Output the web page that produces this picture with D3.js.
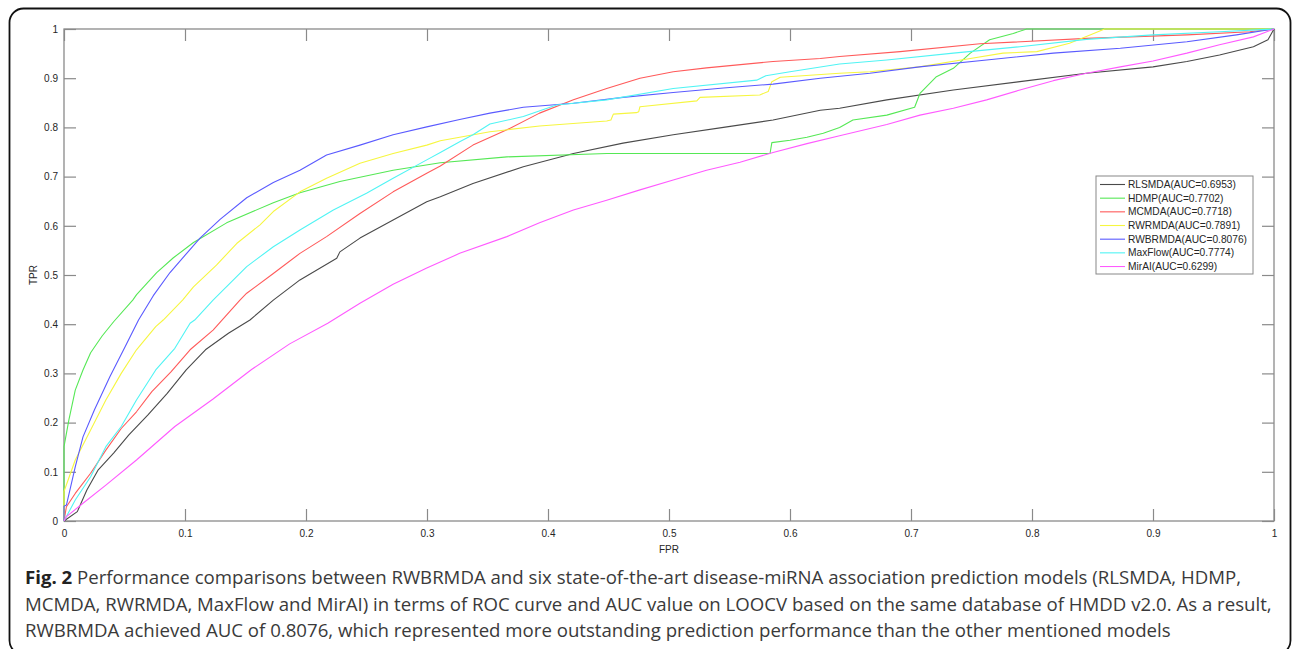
<!DOCTYPE html>
<html>
<head>
<meta charset="utf-8">
<script src="https://cdn.jsdelivr.net/npm/d3@7"></script>
<style>
  body { margin: 0; background: #fff; }
  svg { display: block; }
</style>
</head>
<body>
<svg id="chart"></svg>
<script>
// ROC points [FPR, TPR]
const rlsmda = [[0,0],[.002,.0035],[.011,.019],[.0189,.063],[.0283,.104],[.041,.138],[.0536,.175],[.0694,.2155],[.0853,.2595],[.101,.307],[.1169,.348],[.1359,.3815],[.1537,.4085],[.173,.449],[.195,.49],[.2254,.534],[.228,.547],[.2446,.575],[.272,.612],[.2998,.649],[.311,.659],[.338,.686],[.3796,.72],[.421,.747],[.462,.768],[.5035,.785],[.545,.80],[.586,.815],[.625,.835],[.641,.839],[.68,.856],[.735,.876],[.79,.893],[.845,.91],[.90,.923],[.928,.934],[.955,.947],[.983,.964],[.995,.978],[1,1]];
const hdmp = [[0,0],[0,.151],[.004,.205],[.0093,.266],[.0157,.307],[.022,.342],[.0315,.376],[.041,.405],[.0568,.449],[.060,.46],[.0766,.505],[.0904,.535],[.107,.566],[.1344,.606],[.173,.647],[.195,.667],[.228,.69],[.272,.713],[.311,.728],[.366,.74],[.4485,.747],[.5835,.747],[.585,.769],[.600,.774],[.614,.78],[.6275,.788],[.641,.80],[.652,.815],[.68,.825],[.703,.841],[.7074,.869],[.721,.903],[.735,.92],[.749,.951],[.765,.978],[.7845,.991],[.7956,1],[1,1]];
const mcmda = [[0,0],[.002,.029],[.0093,.056],[.022,.097],[.0346,.144],[.0473,.188],[.0599,.222],[.0726,.263],[.0884,.303],[.1042,.348],[.1232,.388],[.1454,.449],[.151,.463],[.173,.503],[.195,.544],[.217,.578],[.2446,.625],[.272,.669],[.2998,.707],[.311,.7215],[.338,.764],[.366,.795],[.393,.829],[.421,.856],[.4485,.879],[.476,.90],[.5035,.913],[.531,.921],[.586,.934],[.625,.94],[.641,.944],[.691,.954],[.757,.97],[.845,.981],[.928,.988],[.98,.9945],[1,1]];
const rwrmda = [[0,0],[0,.06],[.0093,.124],[.022,.185],[.0346,.246],[.0473,.30],[.0599,.348],[.0758,.395],[.082,.4085],[.098,.449],[.107,.476],[.126,.52],[.1427,.564],[.162,.602],[.173,.629],[.195,.669],[.217,.6965],[.2446,.727],[.272,.747],[.2998,.764],[.311,.773],[.327,.78],[.352,.791],[.393,.803],[.4485,.813],[.452,.815],[.454,.827],[.473,.83],[.475,.832],[.476,.842],[.523,.854],[.5256,.861],[.575,.866],[.582,.873],[.585,.893],[.592,.902],[.641,.91],[.666,.913],[.707,.923],[.749,.94],[.776,.951],[.804,.954],[.831,.971],[.851,.991],[.86,1],[1,1]];
const rwbrmda = [[0,0],[0,.03],[.002,.0325],[.0093,.11],[.0157,.171],[.0251,.2256],[.0379,.293],[.0505,.354],[.0616,.4085],[.0738,.458],[.0876,.505],[.1014,.544],[.1124,.575],[.129,.613],[.151,.657],[.173,.688],[.195,.713],[.217,.744],[.2446,.764],[.272,.785],[.2998,.801],[.327,.816],[.352,.829],[.3796,.841],[.421,.849],[.462,.861],[.5035,.871],[.545,.88],[.586,.888],[.625,.90],[.666,.91],[.707,.923],[.7625,.937],[.8176,.951],[.873,.961],[.928,.974],[.969,.988],[1,1]];
const maxflow = [[0,0],[.002,.009],[.0093,.0427],[.022,.09],[.0346,.151],[.0473,.192],[.0599,.246],[.0758,.307],[.0916,.351],[.1042,.402],[.108,.4085],[.1232,.449],[.129,.463],[.151,.517],[.173,.5575],[.195,.5915],[.2226,.632],[.25,.666],[.272,.6965],[.2998,.734],[.311,.749],[.327,.771],[.338,.785],[.352,.807],[.3796,.822],[.407,.8455],[.4485,.856],[.5035,.879],[.5725,.896],[.58,.905],[.600,.913],[.641,.929],[.68,.937],[.735,.951],[.79,.964],[.845,.979],[.90,.988],[.955,.9945],[1,1]];
const mirai = [[0,0],[.002,.009],[.0157,.036],[.0346,.073],[.0599,.124],[.0916,.192],[.1232,.248],[.155,.308],[.1865,.36],[.218,.402],[.2446,.4425],[.272,.481],[.2998,.514],[.327,.544],[.366,.578],[.393,.606],[.421,.632],[.4485,.652],[.476,.673],[.5035,.693],[.531,.713],[.5587,.729],[.586,.749],[.614,.767],[.641,.783],[.68,.806],[.7074,.825],[.735,.839],[.7625,.856],[.79,.876],[.8176,.895],[.845,.91],[.873,.923],[.90,.935],[.928,.951],[.955,.968],[.983,.984],[1,1]];

const names = ['RLSMDA', 'HDMP', 'MCMDA', 'RWRMDA', 'RWBRMDA', 'MaxFlow', 'MirAI'];
const aucs = ['0.6953', '0.7702', '0.7718', '0.7891', '0.8076', '0.7774', '0.6299'];
const colors = ['#4a4a4a', '#55e855', '#ff5a5a', '#f6f640', '#5a5aff', '#50f4f4', '#ff5aff'];
const curves = [rlsmda, hdmp, mcmda, rwrmda, rwbrmda, maxflow, mirai];
const ticks = [0, 0.1, 0.2, 0.3, 0.4, 0.5, 0.6, 0.7, 0.8, 0.9, 1];

const captionBold = 'Fig. 2';
const captionLines = [
  ' Performance comparisons between RWBRMDA and six state-of-the-art disease-miRNA association prediction models (RLSMDA, HDMP,',
  'MCMDA, RWRMDA, MaxFlow and MirAI) in terms of ROC curve and AUC value on LOOCV based on the same database of HMDD v2.0. As a result,',
  'RWBRMDA achieved AUC of 0.8076, which represented more outstanding prediction performance than the other mentioned models'
];

const width = 1293, height = 649;
const margin = {top: 29, right: 19, bottom: 128, left: 64};
const axisColor = '#8a8a8a', labelColor = '#262626';
const font = '"Liberation Sans", Arial, sans-serif';

const svg = d3.select('#chart').attr('width', width).attr('height', height);

// outer rounded frame
svg.append('rect')
  .attr('x', 9.5).attr('y', 8.5)
  .attr('width', 1281).attr('height', 646)
  .attr('rx', 14)
  .attr('fill', 'none').attr('stroke', '#111').attr('stroke-width', 1.8);

const x = d3.scaleLinear().domain([0, 1]).range([margin.left, width - margin.right]);
const y = d3.scaleLinear().domain([0, 1]).range([height - margin.bottom, margin.top]);
const fmt = d => String(+d.toFixed(1));

function styleAxis(g) {
  g.select('.domain').remove();
  g.selectAll('.tick line').attr('stroke', axisColor).attr('stroke-width', 1.2);
  g.selectAll('.tick text').attr('fill', labelColor).attr('font-size', 10).attr('font-family', font);
}

svg.append('g')
  .attr('transform', `translate(0,${y(0)})`)
  .call(d3.axisBottom(x).tickValues(ticks).tickFormat(fmt).tickSize(-12).tickPadding(9))
  .call(styleAxis);
svg.append('g')
  .attr('transform', `translate(0,${y(1)})`)
  .call(d3.axisTop(x).tickValues(ticks).tickFormat('').tickSize(-12))
  .call(styleAxis);
svg.append('g')
  .attr('transform', `translate(${x(0)},0)`)
  .call(d3.axisLeft(y).tickValues(ticks).tickFormat(fmt).tickSize(-12).tickPadding(6))
  .call(styleAxis);
svg.append('g')
  .attr('transform', `translate(${x(1)},0)`)
  .call(d3.axisRight(y).tickValues(ticks).tickFormat('').tickSize(-12))
  .call(styleAxis);

// axes box
svg.append('rect')
  .attr('x', x(0)).attr('y', y(1))
  .attr('width', x(1) - x(0)).attr('height', y(0) - y(1))
  .attr('fill', 'none').attr('stroke', axisColor).attr('stroke-width', 1.3);

// axis labels
svg.append('text')
  .attr('x', (x(0) + x(1)) / 2).attr('y', y(0) + 32)
  .attr('text-anchor', 'middle')
  .attr('font-size', 10).attr('font-family', font).attr('fill', labelColor)
  .text('FPR');
svg.append('text')
  .attr('transform', `translate(37,${(y(0) + y(1)) / 2}) rotate(-90)`)
  .attr('text-anchor', 'middle')
  .attr('font-size', 10).attr('font-family', font).attr('fill', labelColor)
  .text('TPR');

// ROC curves
const line = d3.line().x(d => x(d[0])).y(d => y(d[1]));
curves.forEach((c, i) => {
  svg.append('path')
    .datum(c)
    .attr('fill', 'none')
    .attr('stroke', colors[i])
    .attr('stroke-width', 1.1)
    .attr('stroke-linejoin', 'round')
    .attr('d', line);
});

// legend
const lg = svg.append('g').attr('transform', 'translate(1096,176)');
lg.append('rect')
  .attr('width', 157).attr('height', 98)
  .attr('fill', '#fff').attr('stroke', '#888').attr('stroke-width', 1);
names.forEach((n, i) => {
  const yy = 8.5 + i * 13.67;
  lg.append('line')
    .attr('x1', 4).attr('x2', 29).attr('y1', yy).attr('y2', yy)
    .attr('stroke', colors[i]).attr('stroke-width', 1.1);
  lg.append('text')
    .attr('x', 32).attr('y', yy).attr('dy', '0.35em')
    .attr('font-size', 10.2).attr('font-family', font).attr('fill', labelColor)
    .text(`${n}(AUC=${aucs[i]})`);
});

// caption
const cap = svg.append('g').attr('font-family', '"Open Sans", "Noto Sans", sans-serif').attr('fill', '#3a3a3a');
const baselines = [584, 611, 637];
const capTexts = captionLines.map((t, i) => {
  const tx = cap.append('text').attr('x', 25).attr('y', baselines[i]).attr('font-size', 17);
  if (i === 0) tx.append('tspan').attr('font-weight', 'bold').attr('fill', '#222').text(captionBold);
  tx.append('tspan').text(t);
  return tx;
});
// fit the second line to its width in the figure
const w2 = capTexts[1].node().getComputedTextLength();
const fs = 17 * 1248 / w2;
capTexts.forEach(t => t.attr('font-size', fs));
</script>
</body>
</html>
